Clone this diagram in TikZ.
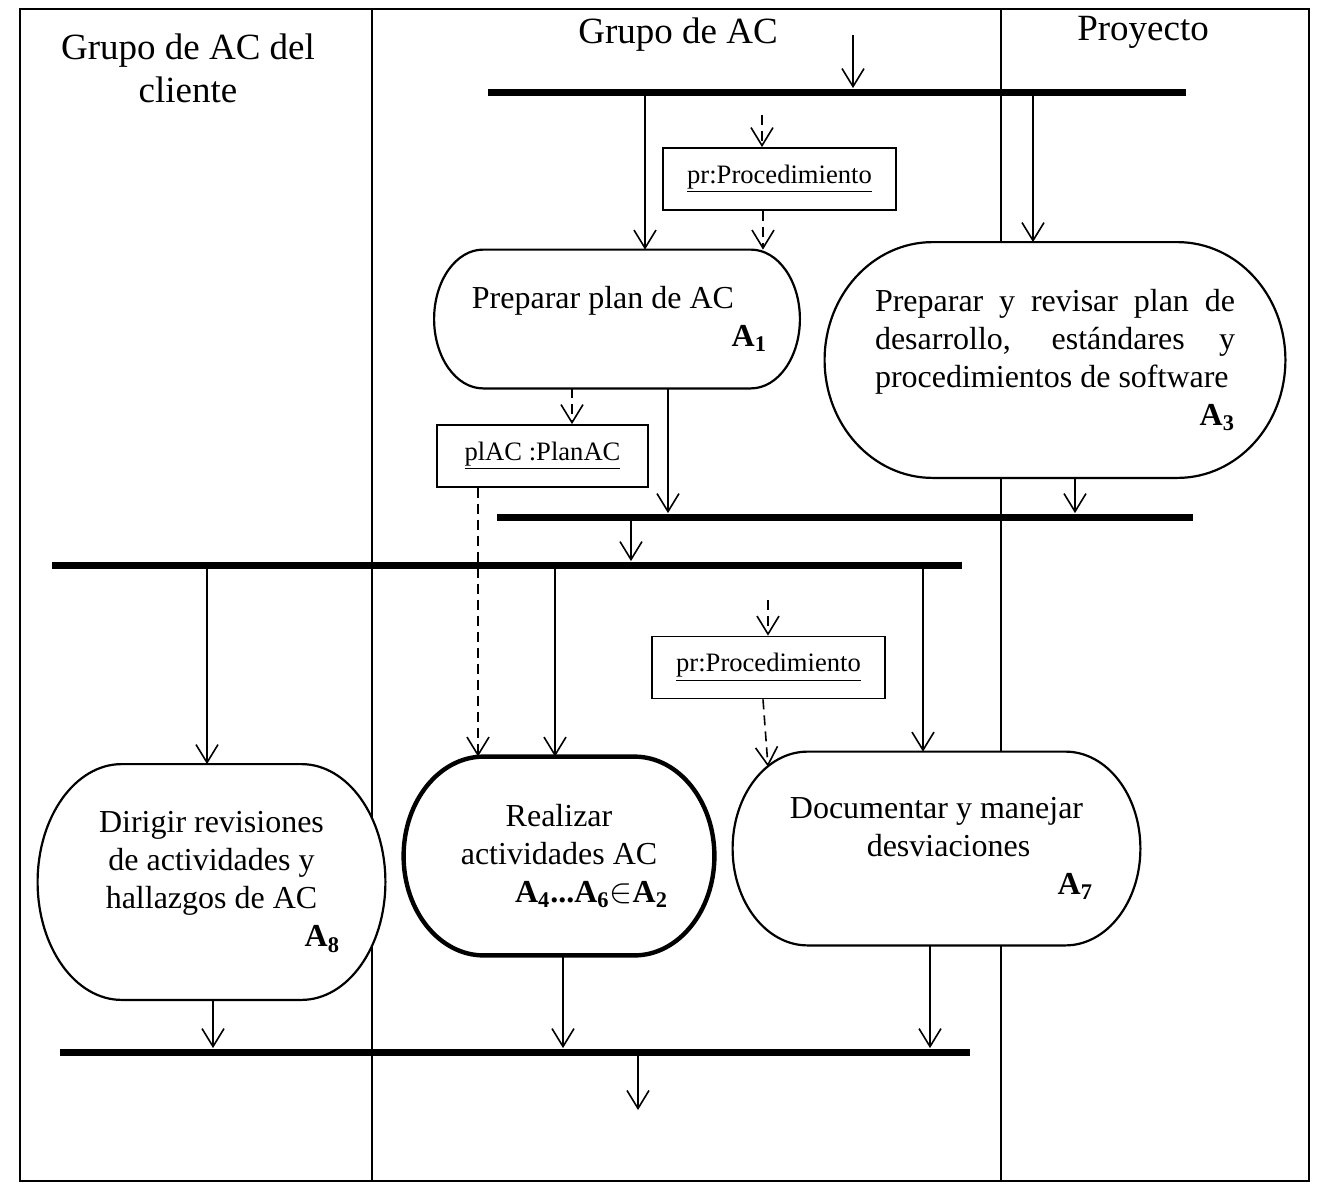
\documentclass[tikz,border=0pt]{standalone}
\usepackage{fontspec}
\setmainfont{Liberation Serif}
\usetikzlibrary{arrows.meta, calc, backgrounds}

% activity number, e.g. A_1
\newcommand{\alab}[1]{\textbf{A\textsubscript{#1}}}
% outline of an activity: flat top/bottom, elliptic ends of x radius #3
\newcommand{\actframe}[3][]{%
  \filldraw[actline, #1] let \p1=(#2.north west), \p2=(#2.south east) in
    (\x1+#3,\y1) -- (\x2-#3,\y1)
    arc[start angle=90, end angle=-90, x radius=#3, y radius={0.5*(\y1-\y2)}]
    -- (\x1+#3,\y2)
    arc[start angle=270, end angle=90, x radius=#3, y radius={0.5*(\y1-\y2)}]
    -- cycle;}

\begin{document}
\begin{tikzpicture}[
    x=0.5pt, y=-0.5pt,
    font=\fontsize{16}{19}\selectfont,
    >={Straight Barb[length=9pt, width=11pt]},
    % --- node styles ---
    lanehead/.style={font=\fontsize{18.5}{21.5}\selectfont, align=center},
    act/.style     ={rectangle, inner sep=0pt, align=flush center},
    actline/.style ={line width=1.1pt, fill=white},
    obj/.style     ={draw, line width=0.9pt, minimum height=31pt, inner sep=0pt,
                     font=\fontsize{13.3}{16}\selectfont},
    syncbar/.style ={fill=black, inner sep=0pt, minimum height=3.5pt},
    % --- line styles ---
    lane/.style    ={line width=0.8pt},
    flow/.style    ={->, line width=0.8pt},
    dflow/.style   ={flow, dash pattern=on 5pt off 3pt},
]
\useasboundingbox (0,0) rectangle (1317,1189);

% =============== swimlanes ===============
\begin{scope}[on background layer]
  \draw[lane] (20,9) rectangle (1309,1181);
  \draw[lane] (372,9) -- (372,1181);
  \draw[lane] (1001,9) -- (1001,1181);
\end{scope}

\node[lanehead] (hcli)  at (188,68)  {Grupo de AC del\\cliente};
\node[lanehead] (hac)   at (678,35)  {Grupo de AC};
\node[lanehead] (hproy) at (1143,32) {Proyecto};

% =============== sync bars ===============
\node[syncbar, minimum width=349pt] (join1) at (837,92)   {};
\node[syncbar, minimum width=348pt] (join2) at (845,517)  {};
\node[syncbar, minimum width=455pt] (join3) at (507,565)  {};
\node[syncbar, minimum width=455pt] (join4) at (515,1052) {};

% =============== objects ===============
\node[obj, minimum width=116.5pt] (pr1)  at (779.5,179) {\underline{pr:Procedimiento}};
\node[obj, minimum width=105.5pt] (plac) at (542.5,456) {\underline{plAC :PlanAC}};
\node[obj, minimum width=116.5pt] (pr2)  at (768.5,667.5) {\underline{pr:Procedimiento}};

% =============== activities ===============
\node[act, minimum width=182.5pt, minimum height=69pt, text width=150pt] (a1) at (617,319)
  {\mbox{Preparar plan de AC\hspace{14pt}}\\\hspace*{\fill}\alab{1}};
\node[act, minimum width=230pt, minimum height=117.5pt, text width=180pt, align=justify,
      execute at begin node={\tolerance=9999}] (a3) at (1055,360)
  {Preparar y revisar plan de\linebreak desarrollo, estándares y\linebreak
   procedimientos de software\\\hspace*{\fill}\alab{3}};
\node[act, minimum width=173.5pt, minimum height=117.5pt, text width=128.5pt] (a8) at (211.5,882)
  {Dirigir revisiones\\de actividades y\\hallazgos de AC\\\hspace*{\fill}\alab{8}};
\node[act, minimum width=155pt, minimum height=99pt, text width=109pt] (a4) at (559,856)
  {Realizar\\actividades AC\\\hspace*{\fill}\textbf{A\textsubscript{4}...A\textsubscript{6}$\in$A\textsubscript{2}}};
\node[act, minimum width=203.5pt, minimum height=96.5pt, text width=156.5pt] (a7) at (936.5,848.5)
  {Documentar y manejar\\\hspace*{12pt}desviaciones\\\hspace*{\fill}\alab{7}};

\begin{scope}[on background layer]
  \actframe{a1}{24.5pt}
  \actframe{a3}{54pt}
  \actframe{a8}{42pt}
  \actframe[line width=2.2pt]{a4}{40pt}
  \actframe{a7}{37.5pt}
\end{scope}

% =============== control flow ===============
\coordinate (start)  at (853,35);
\coordinate (finish) at (638,1110);
\coordinate (prin1)  at (762,115);
\coordinate (prin2)  at (768,600);

\draw[flow] (start) -- (start |- join1.north);
\draw[flow] (join1.south -| 645,0)  -- (a1.north -| 645,0);
\draw[flow] (join1.south -| 1033,0) -- (a3.north -| 1033,0);
\draw[flow] (a1.south -| 668,0)  -- (join2.north -| 668,0);
\draw[flow] (a3.south -| 1075,0) -- (join2.north -| 1075,0);
\draw[flow] (join2.south -| 631,0) -- (join3.north -| 631,0);
\draw[flow] (join3.south -| 207,0) -- (a8.north -| 207,0);
\draw[flow] (join3.south -| 555,0) -- (a4.north -| 555,0);
\draw[flow] (join3.south -| 923,0) -- (a7.north -| 923,0);
\draw[flow] (a8.south -| 213,0) -- (join4.north -| 213,0);
\draw[flow] (a4.south -| 563,0) -- (join4.north -| 563,0);
\draw[flow] (a7.south -| 930,0) -- (join4.north -| 930,0);
\draw[flow] (join4.south -| 638,0) -- (finish);

% =============== object flow ===============
\draw[dflow] (prin1) -- (prin1 |- pr1.north);
\draw[dflow] (pr1.south -| 763,0) -- (a1.north -| 763,0);
\draw[dflow] (a1.south -| 572,0) -- (plac.north -| 572,0);
\draw[dflow] (plac.south -| 478,0) -- (a4.north -| 478,0);
\draw[dflow] (prin2) -- (prin2 |- pr2.north);
\draw[dflow] (pr2.south -| 763,0) -- ($(a7.north -| 768,0)+(0,15)$);

\end{tikzpicture}
\end{document}
